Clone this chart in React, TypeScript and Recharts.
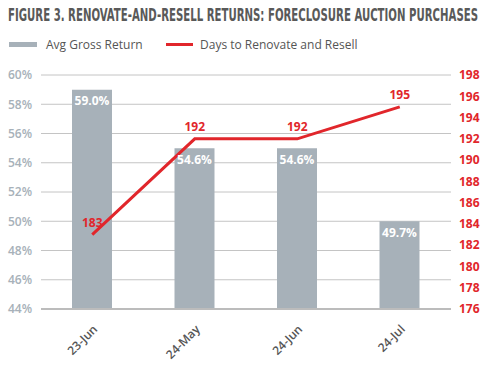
import React from "react";
import {
    ComposedChart,
    Bar,
    Line,
    XAxis,
    YAxis,
    CartesianGrid,
    LabelList
} from "recharts";

const periods = ["23-Jun", "24-May", "24-Jun", "24-Jul"];
const grossReturn = [59.0, 55.0, 55.0, 50.0];
const grossReturnLabels = ["59.0%", "54.6%", "54.6%", "49.7%"];
const daysToResell = [183, 192, 192, 195];
const leftTicks = [44, 46, 48, 50, 52, 54, 56, 58, 60];
const rightTicks = [176, 178, 180, 182, 184, 186, 188, 190, 192, 194, 196, 198];

const data = periods.map((p, i) => ({
    period: p,
    ret: grossReturn[i],
    retLabel: grossReturnLabels[i],
    days: daysToResell[i]
}));

const FONT = "'Open Sans', sans-serif";
const GREY = "#a7b1b9";
const RED = "#e1262b";

const XTick = ({ x, y, payload }: any) => (
    <g transform={`translate(${x + 6},${y + 13})`}>
        <text
            textAnchor="end"
            transform="rotate(-45)"
            fill="#555"
            fontSize={12}
            fontWeight={600}
            fontFamily={FONT}
        >
            {payload.value}
        </text>
    </g>
);

export default function App() {
    return (
        <div style={{ position: "absolute", left: 0, top: 0, width: 489, height: 372, background: "#fff" }}>
            <svg width={489} height={60} style={{ position: "absolute", left: 0, top: 0 }}>
                {/* condensed title: narrow font, stretched vertically */}
                <g transform="translate(8,21) scale(1,1.62)">
                    <text
                        x={0}
                        y={0}
                        textLength={470}
                        lengthAdjust="spacingAndGlyphs"
                        fill="#595959"
                        fontSize={11}
                        fontWeight={700}
                        fontFamily="'Liberation Sans Narrow', 'DejaVu Sans Condensed', sans-serif"
                    >
                        FIGURE 3. RENOVATE-AND-RESELL RETURNS: FORECLOSURE AUCTION PURCHASES
                    </text>
                </g>
                <rect x={9} y={42} width={28} height={5} fill={GREY} />
                <text x={46} y={49} fill="#555" fontSize={12} fontFamily={FONT}>Avg Gross Return</text>
                <rect x={166} y={43} width={27} height={3} fill={RED} />
                <text x={200} y={49} fill="#555" fontSize={12} fontFamily={FONT}>Days to Renovate and Resell</text>
            </svg>
            <div style={{ position: "absolute", left: 0, top: 0 }}>
                <ComposedChart
                    width={489}
                    height={372}
                    data={data}
                    margin={{ top: 75, right: 0, left: 0, bottom: 0 }}
                >
                    <CartesianGrid yAxisId="left" vertical={false} stroke="#c4c4c4" />
                    <XAxis
                        dataKey="period"
                        axisLine={{ stroke: "#bcbcbc", strokeWidth: 2 }}
                        tickLine={false}
                        height={63}
                        interval={0}
                        tick={<XTick />}
                    />
                    <YAxis
                        yAxisId="left"
                        domain={[44, 60]}
                        ticks={leftTicks}
                        tickFormatter={(v) => `${v}%`}
                        axisLine={false}
                        tickLine={false}
                        tickSize={0}
                        tickMargin={9}
                        width={41}
                        tick={{ fill: GREY, fontSize: 12, fontWeight: 600, fontFamily: FONT }}
                    />
                    <YAxis
                        yAxisId="right"
                        orientation="right"
                        domain={[176, 198]}
                        ticks={rightTicks}
                        axisLine={false}
                        tickLine={false}
                        tickSize={0}
                        tickMargin={8}
                        width={38}
                        tick={{ fill: RED, fontSize: 12, fontWeight: 700, fontFamily: FONT }}
                    />
                    <Bar yAxisId="left" dataKey="ret" fill={GREY} barSize={40} isAnimationActive={false}>
                        <LabelList
                            dataKey="retLabel"
                            position="insideTop"
                            offset={7}
                            fill="#fff"
                            fontSize={12}
                            fontWeight={700}
                            fontFamily={FONT}
                        />
                    </Bar>
                    <Line
                        yAxisId="right"
                        dataKey="days"
                        stroke={RED}
                        strokeWidth={3}
                        dot={false}
                        type="linear"
                        isAnimationActive={false}
                    >
                        <LabelList
                            dataKey="days"
                            position="top"
                            offset={8}
                            fill={RED}
                            fontSize={12}
                            fontWeight={700}
                            fontFamily={FONT}
                        />
                    </Line>
                </ComposedChart>
            </div>
        </div>
    );
}
